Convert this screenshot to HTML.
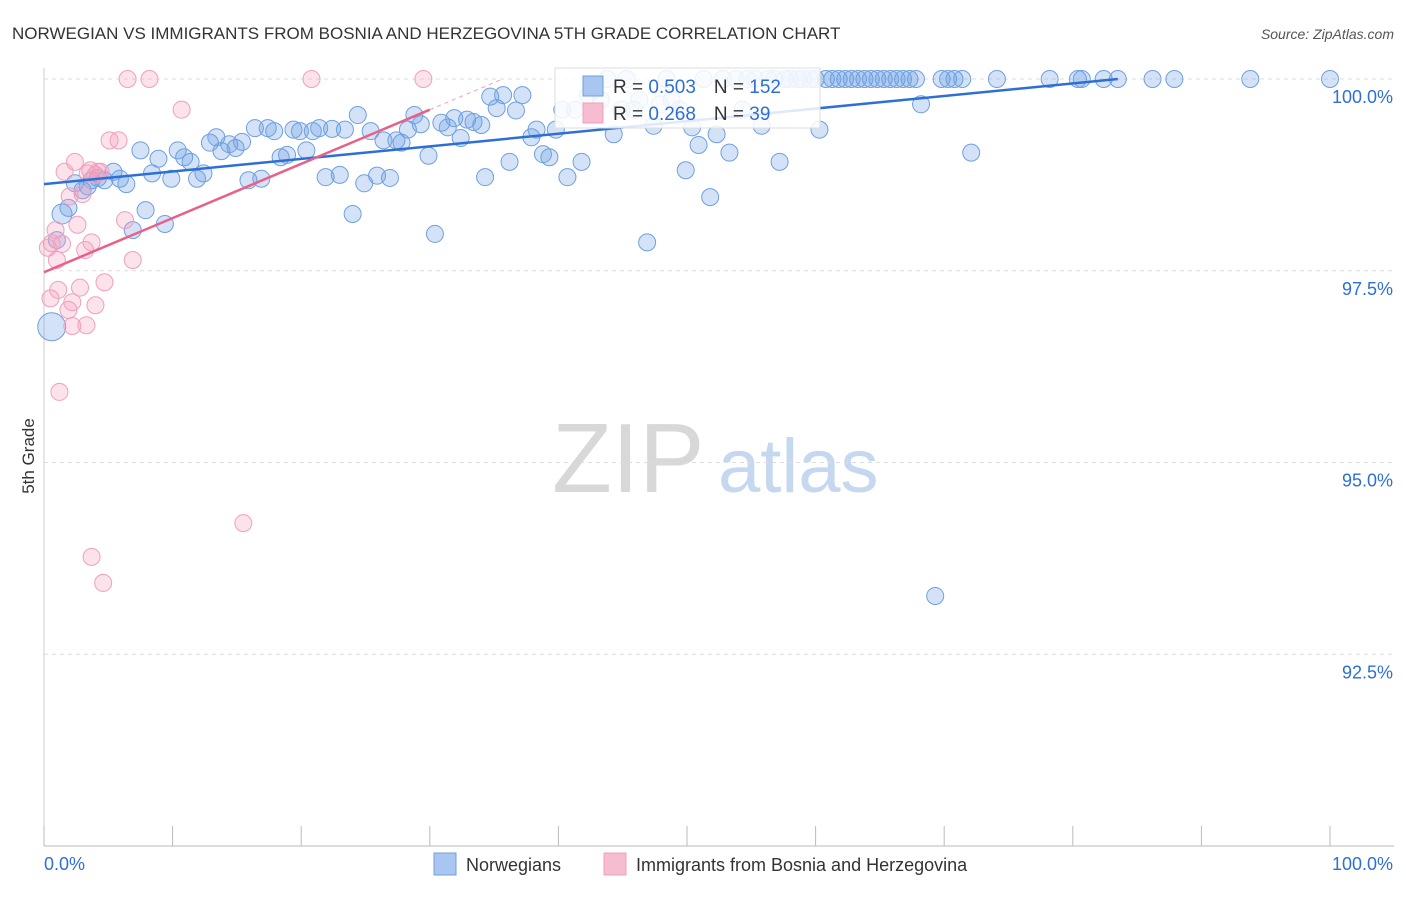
<!DOCTYPE html>
<html><head><meta charset="utf-8"><style>
body{margin:0;background:#fff;font-family:"Liberation Sans",sans-serif;}
svg text{font-family:"Liberation Sans",sans-serif;}
</style></head><body>
<svg id="chart" width="1406" height="892" xmlns="http://www.w3.org/2000/svg">
<text x="12" y="39" font-size="17" fill="#333">NORWEGIAN VS IMMIGRANTS FROM BOSNIA AND HERZEGOVINA 5TH GRADE CORRELATION CHART</text>
<text x="1394" y="39" font-size="14" fill="#555" text-anchor="end" font-style="italic">Source: ZipAtlas.com</text>
<text x="552" y="492" font-size="98" fill="#d8d8d8" font-family="Liberation Serif, serif">ZIP</text>
<text x="718" y="492" font-size="76" fill="#c5d8ef">atlas</text>
<text transform="translate(34,456) rotate(-90)" font-size="17" fill="#333" text-anchor="middle">5th Grade</text>
<g id="grid"></g><g id="axes"></g><g id="pts"></g><g id="lines"></g>
<g>
<rect x="555" y="68" width="265" height="60" fill="#fff" fill-opacity="0.85" stroke="#ddd"/>
<rect x="583" y="76" width="20" height="20" fill="#a9c6f0" stroke="#6fa0e0"/>
<text x="613" y="93" font-size="19" fill="#333">R = <tspan fill="#2e6fd6">0.503</tspan><tspan dx="18">N = </tspan><tspan fill="#2e6fd6">152</tspan></text>
<rect x="583" y="103" width="20" height="20" fill="#f6bcd0" stroke="#f0a0bc"/>
<text x="613" y="120" font-size="19" fill="#333">R = <tspan fill="#2e6fd6">0.268</tspan><tspan dx="18">N = </tspan><tspan fill="#2e6fd6">39</tspan></text>
</g>
<g><rect x="434" y="853" width="22" height="22" fill="#a9c6f0" stroke="#6fa0e0"/><text x="466" y="871" font-size="18" fill="#333">Norwegians</text></g>
<g><rect x="604" y="853" width="22" height="22" fill="#f6bcd0" stroke="#f0a0bc"/><text x="636" y="871" font-size="18" fill="#333">Immigrants from Bosnia and Herzegovina</text></g>
</svg>
<script>
const blueX=[0.6,1.4,1.9,1.0,2.4,3.0,3.4,3.7,4.2,4.7,5.4,5.9,6.4,6.9,7.5,7.9,8.4,8.9,9.4,9.9,10.4,10.9,11.4,11.9,12.4,12.9,13.4,13.8,14.4,14.9,15.4,15.9,16.4,16.9,17.4,17.9,18.4,18.9,19.4,19.9,20.4,20.9,21.4,21.9,22.4,23.0,23.4,24.0,24.4,24.9,25.4,25.9,26.4,26.9,27.4,27.8,28.3,28.8,29.3,29.9,30.4,30.9,31.4,31.9,32.4,32.9,33.4,34.0,34.3,34.7,35.2,35.7,36.2,36.7,37.2,37.9,38.3,38.8,39.3,39.8,40.3,40.7,41.3,41.8,42.3,42.8,43.3,43.8,44.3,44.9,45.3,45.9,46.3,46.9,47.4,47.9,48.4,48.8,49.4,49.9,50.4,50.9,51.3,51.8,52.3,52.8,53.3,53.8,54.3,54.7,55.3,55.8,56.3,56.8,57.2,57.6,58.0,58.6,59.0,59.6,60.0,60.3,60.8,61.3,61.8,62.3,62.8,63.3,63.8,64.3,64.8,65.3,65.8,66.3,66.8,67.3,67.8,68.2,69.3,69.8,70.3,70.8,71.4,72.1,74.1,78.2,80.4,80.7,82.4,83.5,86.2,87.9,93.8,100];
const blueY=[96.77,98.24,98.32,97.90,98.64,98.55,98.60,98.68,98.71,98.68,98.79,98.70,98.63,98.03,99.07,98.29,98.77,98.96,98.11,98.70,99.07,98.98,98.92,98.70,98.77,99.17,99.24,99.06,99.15,99.10,99.18,98.68,99.36,98.70,99.36,99.32,98.98,99.01,99.34,99.32,99.07,99.32,99.36,98.72,99.35,98.75,99.34,98.24,99.53,98.64,99.32,98.74,99.20,98.71,99.20,99.17,99.34,99.53,99.41,99.00,97.98,99.43,99.37,99.49,99.23,99.47,99.44,99.40,98.72,99.77,99.62,99.79,98.92,99.59,99.79,99.24,99.34,99.02,98.98,99.34,99.60,98.72,99.60,98.92,99.79,99.54,99.73,100,99.28,99.60,100,99.60,99.73,97.87,99.39,99.67,100,99.73,99.60,98.81,99.37,99.14,100,98.46,99.28,100,99.04,100,99.60,100,100,99.39,100,100,98.92,100,100,100,100,100,100,99.34,100,100,100,100,100,100,100,100,100,100,100,100,100,100,100,99.67,93.26,100,100,100,100,99.04,100,100,100,100,100,100,100,100,100,100];
const blueR=[14,10];
const pinkX=[0.3,0.5,0.6,0.9,1.0,1.1,1.4,1.6,1.9,2.0,2.2,2.4,2.6,2.8,3.0,3.2,3.3,3.6,3.7,4.0,4.2,4.4,4.7,5.1,5.8,6.3,6.5,6.9,8.2,10.7,15.5,20.8,29.5,1.2,3.7,4.6,2.2,4.0,3.4];
const pinkY=[97.80,97.14,97.86,98.03,97.64,97.25,97.85,98.79,96.99,98.47,96.78,98.92,98.10,97.28,98.50,97.77,96.79,98.81,97.87,97.05,98.79,98.79,97.35,99.20,99.20,98.16,100,97.64,100,99.60,94.21,100,100,95.92,93.77,93.43,97.09,98.75,98.77];
const blueLine=[0,98.63,83.5,100];
const pinkLine=[0,97.48,30,99.60];
const yTicks=[100,97.5,95,92.5];
const yTickLabels=["100.0%","97.5%","95.0%","92.5%"];
const xTicks=[0,10,20,30,40,50,60,70,80,90,100];
const xTickLabels=["0.0%","100.0%"];
const sx=v=>44+v*12.86, sy=v=>79+(100-v)*76.7;
const NS="http://www.w3.org/2000/svg";
function mk(p,t,a){const e=document.createElementNS(NS,t);for(const k in a)e.setAttribute(k,a[k]);p.appendChild(e);return e;}
const grid=document.getElementById('grid'),axes=document.getElementById('axes'),pts=document.getElementById('pts'),lines=document.getElementById('lines');
yTicks.forEach((v,i)=>{
 const l=mk(grid,'line',{x1:44,x2:1394,y1:sy(v),y2:sy(v),stroke:'#ddd','stroke-dasharray':'4,4'});
 
 
 const t=mk(axes,'text',{x:1393,y:sy(v)+24,'font-size':18,fill:'#2e6fd6','text-anchor':'end'});t.textContent=yTickLabels[i];
 
 
});
const ax=mk(axes,'line',{x1:44,x2:1394,y1:846,y2:846,stroke:'#bbb'});


const ay=mk(axes,'line',{x1:44,x2:44,y1:68,y2:846,stroke:'#ccc'});


xTicks.forEach(v=>{const l=mk(axes,'line',{x1:sx(v),x2:sx(v),y1:826,y2:846,stroke:'#bbb'});
 
 });
const t0=mk(axes,'text',{x:44,y:870,'font-size':18,fill:'#2e6fd6'});t0.textContent=xTickLabels[0];


const t1=mk(axes,'text',{x:1393,y:870,'font-size':18,fill:'#2e6fd6','text-anchor':'end'});t1.textContent=xTickLabels[1];


blueX.forEach((x,i)=>{const c=mk(pts,'circle',{cx:sx(x),cy:sy(blueY[i]),r:blueR[i]||8.5,fill:'rgba(110,160,230,0.3)',stroke:'#6fa0e0','stroke-width':1});
 
 });
pinkX.forEach((x,i)=>{const c=mk(pts,'circle',{cx:sx(x),cy:sy(pinkY[i]),r:8.5,fill:'rgba(245,160,190,0.3)',stroke:'#f0a0bc','stroke-width':1});
 
 });
const bl=mk(lines,'line',{x1:sx(blueLine[0]),y1:sy(blueLine[1]),x2:sx(blueLine[2]),y2:sy(blueLine[3]),stroke:'#2e6fd6','stroke-width':2.5});


const pl=mk(lines,'line',{x1:sx(pinkLine[0]),y1:sy(pinkLine[1]),x2:sx(pinkLine[2]),y2:sy(pinkLine[3]),stroke:'#e8608a','stroke-width':2.5});


const slope=(pinkLine[3]-pinkLine[1])/(pinkLine[2]-pinkLine[0]);
const xe=pinkLine[2]+(100-pinkLine[3])/slope;
const pd=mk(lines,'line',{x1:sx(pinkLine[2]),y1:sy(pinkLine[3]),x2:sx(xe),y2:sy(100),stroke:'#f0a0bc','stroke-width':1,'stroke-dasharray':'4,4'});


</script>
</body></html>
